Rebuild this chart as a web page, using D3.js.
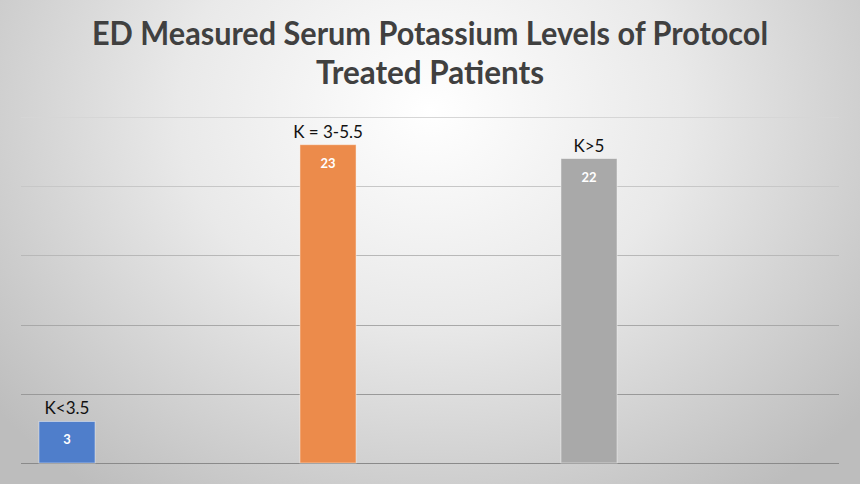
<!DOCTYPE html>
<html><head><meta charset="utf-8">
<script src="https://cdn.jsdelivr.net/npm/d3@7"></script>
<style>html,body{margin:0;padding:0;overflow:hidden;background:#fff}</style>
</head><body><svg id="c" width="860" height="484"></svg>
<script>
const categories = ["K<3.5", "K = 3-5.5", "K>5"];
const values = [3, 23, 22];
const colors = ["#4f7ecb", "#ec8b4b", "#a9a9a9"];
const gridTicks = [0, 5, 10, 15, 20, 25];
const titleLines = ["ED Measured Serum Potassium Levels of Protocol", "Treated Patients"];

const W = 860, H = 484;
const svg = d3.select("#c");
const defs = svg.append("defs");
const rg = defs.append("radialGradient").attr("id","bg")
  .attr("gradientUnits","userSpaceOnUse").attr("cx",430).attr("cy",110).attr("r",560)
  .attr("gradientTransform","translate(430,110) scale(1,0.85) translate(-430,-110)");
rg.append("stop").attr("offset","0").attr("stop-color","#ffffff");
rg.append("stop").attr("offset","0.45").attr("stop-color","#e9e9e9");
rg.append("stop").attr("offset","1").attr("stop-color","#bdbdbd");
svg.append("rect").attr("width",W).attr("height",H).attr("fill","url(#bg)");

// chart scales
const y = d3.scaleLinear().domain([0, 25]).range([463, 117]);
const pi = 0.785;
const x = d3.scaleBand().domain(categories).range([-63.5, 719.5]).paddingInner(pi).paddingOuter(pi/2);
const lineColor = d3.scaleLinear().domain([117, 463]).range(["#d6d6d6", "#8a8a8a"]);

svg.append("g").selectAll("line").data(gridTicks).join("line")
  .attr("x1", 21).attr("x2", 839)
  .attr("y1", d => Math.round(y(d)) + 0.5).attr("y2", d => Math.round(y(d)) + 0.5)
  .attr("stroke", d => lineColor(y(d))).attr("stroke-width", 1.2);

const bars = svg.append("g");
bars.selectAll("rect").data(values).join("rect")
  .attr("x", (d,i) => x(categories[i]))
  .attr("y", d => y(d))
  .attr("width", x.bandwidth())
  .attr("height", d => y(0) - y(d))
  .attr("fill", (d,i) => colors[i])
  .attr("stroke", "rgba(255,255,255,0.45)").attr("stroke-width", 1);

bars.selectAll("text.val").data(values).join("text").attr("class","val")
  .attr("x", (d,i) => x(categories[i]) + x.bandwidth()/2)
  .attr("y", d => y(d) + 23)
  .attr("text-anchor","middle")
  .attr("font-family","Lato, 'Open Sans', sans-serif").attr("font-weight","bold")
  .attr("font-size", 13).attr("fill","#ffffff")
  .text(d => d);

bars.selectAll("text.cat").data(values).join("text").attr("class","cat")
  .attr("x", (d,i) => x(categories[i]) + x.bandwidth()/2)
  .attr("y", d => y(d) - 7)
  .attr("text-anchor","middle")
  .attr("font-family","Lato, 'Open Sans', sans-serif")
  .attr("font-size", 17).attr("fill","#111111")
  .text((d,i) => categories[i]);

svg.append("g").selectAll("text").data(titleLines).join("text")
  .attr("x", 430).attr("y", (d,i) => 45 + i*39)
  .attr("text-anchor","middle")
  .attr("font-family","Lato, 'Open Sans', sans-serif").attr("font-weight","bold")
  .attr("font-size", 32).attr("fill","#404040")
  .attr("textLength", (d,i) => i === 0 ? 676 : 228)
  .attr("lengthAdjust","spacingAndGlyphs")
  .text(d => d);
</script>
</body></html>
